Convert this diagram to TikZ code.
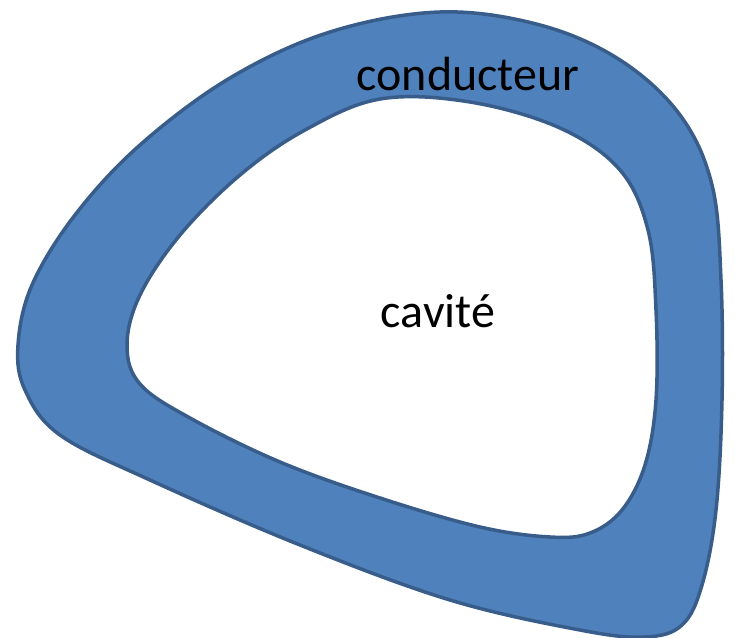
\documentclass[tikz,border=0pt]{standalone}
\usepackage{fontspec}
\setmainfont{Carlito}
\usepackage{tikz}
\definecolor{bleu}{RGB}{79,129,189}
\definecolor{bord}{RGB}{56,93,138}
\tikzset{
    paroi/.style={line width=3.5pt, draw=bord, line join=round},
    etiquette/.style={font=\fontsize{48}{48}\selectfont, text=black}
}

\begin{document}
\begin{tikzpicture}[x=1pt, y=-1pt]
    \useasboundingbox (0,0) rectangle (735,637);

    % Conducteur (contour exterieur)
    \fill[bleu] plot[smooth cycle, tension=0.6] coordinates {
        (440,12) (540,25) (620,60) (680,115) (712,185) (721,280)
        (722,400) (716,510) (702,585) (682,625) (645,637) (580,630)
        (450,600) (300,545) (150,480) (60,435) (25,390) (18,345)
        (32,285) (75,215) (140,145) (230,78) (330,32)};
    \draw[paroi] plot[smooth cycle, tension=0.6] coordinates {
        (440,12) (540,25) (620,60) (680,115) (712,185) (721,280)
        (722,400) (716,510) (702,585) (682,625) (645,637) (580,630)
        (450,600) (300,545) (150,480) (60,435) (25,390) (18,345)
        (32,285) (75,215) (140,145) (230,78) (330,32)};

    % Cavite (contour interieur)
    \filldraw[paroi, fill=white] plot[smooth cycle, tension=0.6] coordinates {
        (380,99) (470,102) (560,128) (620,170) (648,230) (656,310)
        (656,400) (645,465) (622,510) (590,533) (550,537) (480,527)
        (380,498) (280,462) (190,418) (140,384) (127,345) (140,295)
        (180,235) (240,175) (305,130)};

    % Textes
    \node[etiquette] (conducteur) at (468,74) {conducteur};
    \node[etiquette] (cavite) at (438,311) {cavité};
\end{tikzpicture}
\end{document}
